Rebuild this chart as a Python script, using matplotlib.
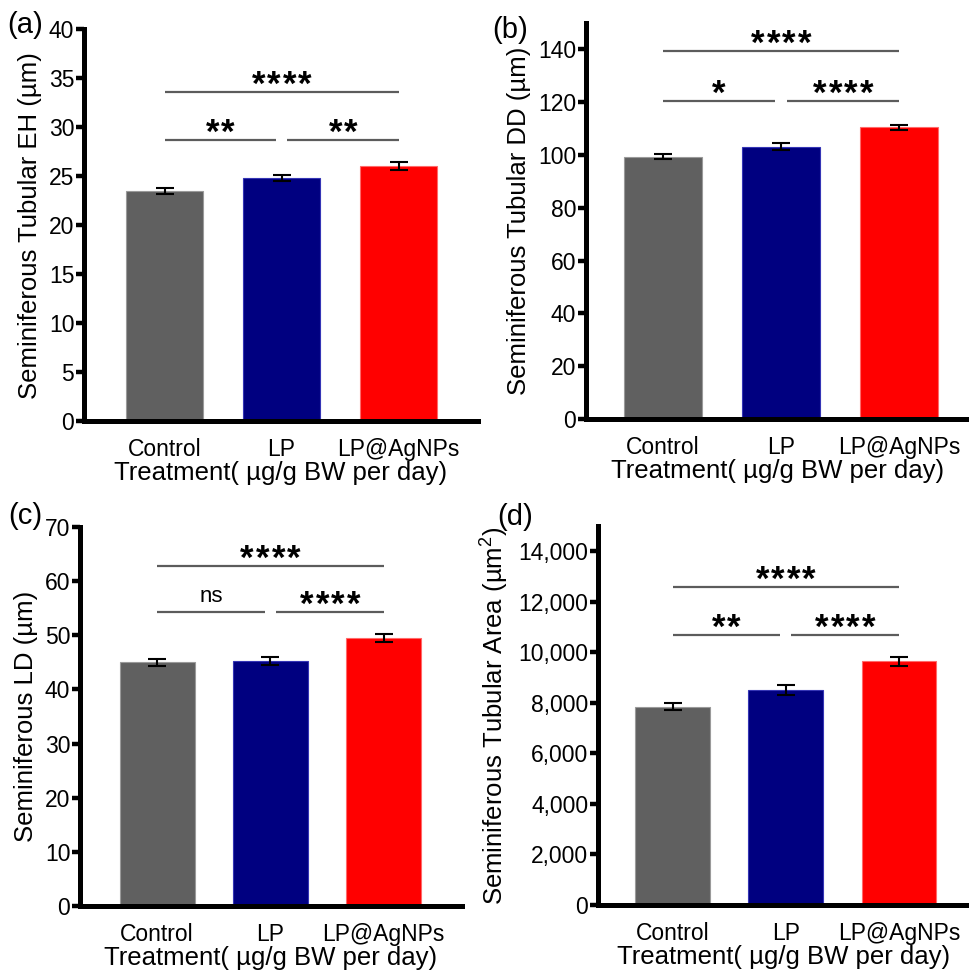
import matplotlib
matplotlib.use("Agg")
import matplotlib.pyplot as plt
from matplotlib.ticker import FuncFormatter

plt.rcParams['font.family'] = ['Liberation Sans', 'DejaVu Sans']
plt.rcParams['mathtext.fontset'] = 'custom'
plt.rcParams['mathtext.rm'] = 'Liberation Sans'
plt.rcParams['mathtext.it'] = 'Liberation Sans'

groups = ["Control", "LP", "LP@AgNPs"]
barColors = ["#606060", "#000080", "#ff0000"]
edgeColors = ["#9a9a9a", "#3535b5", "#ff6a6a"]

ehMeans = [23.5, 24.8, 26.0]
ehErrors = [0.3, 0.35, 0.4]
ddMeans = [99.4, 103.2, 110.5]
ddErrors = [1.0, 1.3, 0.9]
ldMeans = [45.0, 45.2, 49.5]
ldErrors = [0.6, 0.7, 0.7]
areaMeans = [7850, 8500, 9650]
areaErrors = [150, 200, 180]

ehSig = ["**", "**", "****"]
ddSig = ["*", "****", "****"]
ldSig = ["ns", "****", "****"]
areaSig = ["**", "****", "****"]

xLabel = "Treatment( µg/g BW per day)"


def drawSig(ax, x0, x1, y, label):
    ax.plot([x0, x1], [y, y], color="#5c5c5c", lw=1.6, solid_capstyle="butt")
    mid = (x0 + x1) / 2
    if label == "ns":
        ax.annotate(label, (mid, y), xytext=(0, 7), textcoords="offset points",
                    ha="center", va="baseline", fontsize=16)
        return
    # one star per annotation so the gaps match the GraphPad look
    n = len(label)
    for i in range(n):
        ax.annotate("*", (mid, y), xytext=((i - (n - 1) / 2) * 11.2, -2), textcoords="offset points",
                    ha="center", va="baseline", fontsize=25, fontweight="bold")


def drawPanel(rect, means, errors, sig, yTop, ticks, xlim, yLabel, lowY, highY, comma=False):
    ax = fig.add_axes(rect)
    x = list(range(len(groups)))
    ax.bar(x, means, width=0.66, color=barColors, edgecolor=edgeColors, linewidth=0.8, zorder=2)
    ax.errorbar(x, means, yerr=errors, fmt="none", ecolor="black", elinewidth=1.5,
                capsize=6.5, capthick=1.5, zorder=3)
    drawSig(ax, 0, 0.95, lowY, sig[0])
    drawSig(ax, 1.05, 2, lowY, sig[1])
    drawSig(ax, 0, 2, highY, sig[2])

    ax.set_xlim(*xlim)
    ax.set_ylim(0, yTop)
    ax.set_yticks(ticks)
    if comma:
        ax.yaxis.set_major_formatter(FuncFormatter(lambda v, p: "{:,.0f}".format(v)))
    ax.set_xticks(x)
    ax.set_xticklabels(groups)
    for side in ["top", "right"]:
        ax.spines[side].set_visible(False)
    for side in ["left", "bottom"]:
        ax.spines[side].set_linewidth(3.6)
    ax.tick_params(axis="y", direction="out", length=6, width=3.2, labelsize=16.5, pad=1)
    ax.tick_params(axis="x", length=0, labelsize=16.5, pad=12)
    ax.set_xlabel(xLabel, fontsize=18.5, labelpad=0.5)
    ax.set_ylabel(yLabel, fontsize=18.5, labelpad=5)
    return ax


fig = plt.figure(figsize=(9.69, 9.71), dpi=100)

drawPanel([0.0867, 0.5664, 0.4066, 0.4036], ehMeans, ehErrors, ehSig, 40,
          range(0, 41, 5), (-0.69, 2.68), "Seminiferous Tubular EH (µm)", 28.7, 33.6)
drawPanel([0.6047, 0.5685, 0.3953, 0.4078], ddMeans, ddErrors, ddSig, 150,
          range(0, 141, 20), (-0.65, 2.59), "Seminiferous Tubular DD (µm)", 120.5, 139.3)
drawPanel([0.0826, 0.0669, 0.3942, 0.3904], ldMeans, ldErrors, ldSig, 70,
          range(0, 71, 10), (-0.68, 2.69), "Seminiferous LD (µm)", 54.3, 62.8)
drawPanel([0.6171, 0.0680, 0.3829, 0.3903], areaMeans, areaErrors, areaSig, 15000,
          range(0, 14001, 2000), (-0.66, 2.62), "Seminiferous Tubular Area (µm$^{2}$)",
          10700, 12570, comma=True)

fig.text(0.007, 0.974, "(a)", fontsize=21, ha="left", va="center")
fig.text(0.508, 0.969, "(b)", fontsize=21, ha="left", va="center")
fig.text(0.009, 0.4686, "(c)", fontsize=21, ha="left", va="center")
fig.text(0.513, 0.468, "(d)", fontsize=21, ha="left", va="center")

fig.savefig("out.png", dpi=100)
